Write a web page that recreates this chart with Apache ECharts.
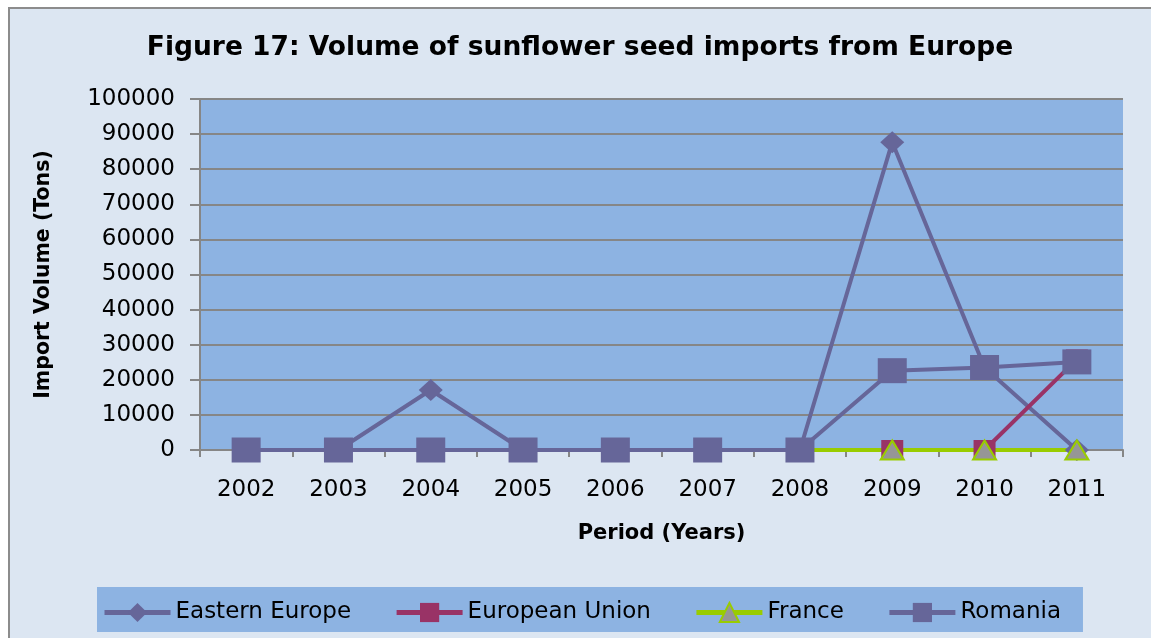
<!DOCTYPE html>
<html>
<head>
<meta charset="utf-8">
<script src="https://cdn.jsdelivr.net/npm/echarts@6/dist/echarts.min.js"></script>
<style>
  html, body { margin: 0; padding: 0; background: #ffffff; }
  #chart { width: 1151px; height: 638px; }
</style>
</head>
<body>
<div id="chart"></div>
<script>
// years on the x axis
const years = ['2002', '2003', '2004', '2005', '2006', '2007', '2008', '2009', '2010', '2011']

// import volumes in tons (null = no point)
const easternEurope = [0, 0, 17100, 0, 0, 0, 0, 87700, 23500, 0]
const europeanUnion = [null, null, null, null, null, null, null, 0, 0, 25800]
const france = [null, null, null, null, null, null, 0, 0, 0, 0]
const romania = [0, 0, 0, 0, 0, 0, 0, 22600, 23500, 25100]

const gridGrey = '#868686'
const purple = '#666699'
const font = 'DejaVu Sans'

const chart = echarts.init(document.getElementById('chart'))

chart.setOption({
  backgroundColor: '#ffffff',
  animation: false,
  textStyle: { fontFamily: font },
  graphic: [
    // outer chart frame
    { type: 'rect', z: -100, silent: true,
      shape: { x: 9, y: 8, width: 1170, height: 660 },
      style: { fill: '#dce6f2', stroke: '#8c8c8c', lineWidth: 2 } }
  ],
  title: {
    text: 'Figure 17: Volume of sunflower seed imports from Europe',
    left: 575, top: 30, textAlign: 'center',
    textStyle: { fontFamily: font, fontSize: 26.5, fontWeight: 'bold', color: '#000' }
  },
  grid: {
    left: 200, right: 28, top: 99, bottom: 188,
    show: true, backgroundColor: '#8db3e2', borderWidth: 0
  },
  legend: {
    left: 97, top: 587,
    padding: [14, 22, 8, 5],
    backgroundColor: '#8db3e2',
    itemWidth: 66, itemHeight: 24, itemGap: 43,
    lineStyle: { width: 5 },
    textStyle: { fontFamily: font, fontSize: 23, color: '#000' },
    data: ['Eastern Europe', 'European Union', 'France', 'Romania']
  },
  xAxis: {
    type: 'category', data: years, boundaryGap: true,
    name: 'Period (Years)', nameLocation: 'middle', nameGap: 73,
    nameTextStyle: { fontFamily: font, fontSize: 21, fontWeight: 'bold', color: '#000' },
    axisLine: { lineStyle: { color: gridGrey, width: 2 } },
    axisTick: { show: true, length: 7, lineStyle: { color: gridGrey, width: 2 } },
    axisLabel: { margin: 29, fontSize: 23, color: '#000', fontFamily: font }
  },
  yAxis: {
    type: 'value', min: 0, max: 100000, interval: 10000,
    name: 'Import Volume (Tons)', nameLocation: 'middle', nameGap: 146,
    nameTextStyle: { fontFamily: font, fontSize: 20.5, fontWeight: 'bold', color: '#000' },
    axisLine: { show: true, lineStyle: { color: gridGrey, width: 2 } },
    axisTick: { show: true, length: 10, lineStyle: { color: gridGrey, width: 2 } },
    axisLabel: { margin: 25, fontSize: 23, color: '#000', fontFamily: font,
      formatter: (v) => String(v) },
    splitLine: { lineStyle: { color: gridGrey, width: 2 } }
  },
  series: [
    { name: 'Eastern Europe', type: 'line', data: easternEurope,
      symbol: 'diamond', symbolSize: [24, 22], showAllSymbol: true,
      lineStyle: { color: purple, width: 4 }, itemStyle: { color: purple } },
    { name: 'European Union', type: 'line', data: europeanUnion,
      symbol: 'rect', symbolSize: [22, 20], showAllSymbol: true,
      lineStyle: { color: '#993366', width: 4 }, itemStyle: { color: '#993366' } },
    { name: 'France', type: 'line', data: france,
      symbol: 'triangle', symbolSize: [23, 19], showAllSymbol: true,
      lineStyle: { color: '#99cc00', width: 4 },
      itemStyle: { color: '#969696', borderColor: '#99cc00', borderWidth: 2 } },
    { name: 'Romania', type: 'line', data: romania,
      symbol: 'rect', symbolSize: [29, 25], showAllSymbol: true,
      lineStyle: { color: purple, width: 4 }, itemStyle: { color: purple } }
  ]
})
</script>
</body>
</html>
